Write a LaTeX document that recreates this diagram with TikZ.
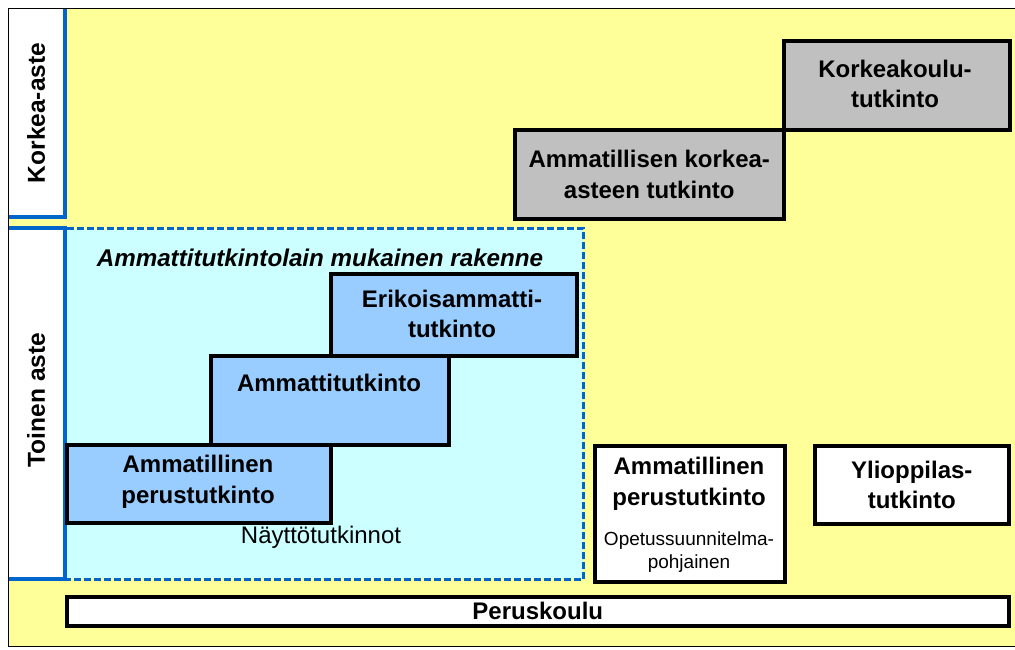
\documentclass[tikz,border=0pt]{standalone}
\usepackage{fontspec}
\setmainfont{Liberation Sans}
\definecolor{bgyellow}{HTML}{FFFF99}
\definecolor{lightcyan}{HTML}{CCFFFF}
\definecolor{boxblue}{HTML}{99CCFF}
\definecolor{boxgray}{HTML}{C0C0C0}
\definecolor{lineblue}{HTML}{0066CC}
\tikzset{
  qbox/.style={draw=black, line width=3.5pt, inner sep=0pt, anchor=north west},
  blbl/.style={font=\bfseries\fontsize{24}{30.5}\selectfont, align=center, inner sep=0pt},
  rlbl/.style={font=\fontsize{24}{28}\selectfont, align=center, inner sep=0pt},
  slbl/.style={font=\fontsize{19}{23}\selectfont, align=center, inner sep=0pt},
  sidelbl/.style={font=\bfseries\fontsize{24.5}{28}\selectfont, rotate=90, inner sep=0pt},
  blueline/.style={draw=lineblue, line width=3.5pt},
  bluedash/.style={draw=lineblue, line width=3pt, dash pattern=on 7pt off 3pt},
}
\begin{document}
\begin{tikzpicture}[x=1pt,y=-1pt]
\useasboundingbox (0,0) rectangle (1015,649);
% background
\fill[bgyellow] (8,8) rectangle (1016,646);
\draw[black, line width=1pt] (1017,8) -- (8,8) -- (8,646) -- (1017,646);
% side label panels
\fill[white] (8.5,8.5) rectangle (65,217);
\draw[blueline] (65,8.5) -- (65,217) -- (8.5,217);
\node[sidelbl] (korkea) at (36,113) {Korkea-aste};
\fill[white] (8.5,228) rectangle (65,579);
\draw[blueline] (8.5,228) -- (65,228) -- (65,579) -- (8.5,579);
\node[sidelbl] (toinen) at (36,400) {Toinen aste};
% cyan region
\fill[lightcyan] (66.5,229.5) rectangle (583,577.5);
\draw[bluedash] (66.5,228) -- (583,228) -- (583,579) -- (66.5,579);
\node[font=\bfseries\itshape\fontsize{24.2}{28}\selectfont, inner sep=0pt] (title) at (320,258) {Ammattitutkintolain mukainen rakenne};
% stair boxes
\node[qbox, fill=boxblue, minimum width=264pt, minimum height=78pt] (apt) at (65,443) {};
\node[qbox, fill=boxblue, minimum width=238pt, minimum height=89pt] (at) at (209,354) {};
\node[qbox, fill=boxblue, minimum width=246pt, minimum height=82pt] (eat) at (329,272) {};
\node[blbl] (aptl) at (198,482) {Ammatillinen\\perustutkinto};
\node[blbl] (atl) at (329,383) {Ammattitutkinto};
\node[blbl] (eatl) at (452,314) {Erikoisammatti-\\tutkinto};
\node[rlbl] (nayt) at (321,537) {Näyttötutkinnot};
% higher education
\node[qbox, fill=boxgray, minimum width=269pt, minimum height=89pt] (akt) at (513,128) {};
\node[qbox, fill=boxgray, minimum width=226pt, minimum height=89pt] (kkt) at (782,39) {};
\node[blbl] (aktl) at (akt.center) {Ammatillisen korkea-\\asteen tutkinto};
\node[blbl] (kktl) at (895,84) {Korkeakoulu-\\tutkinto};
% right secondary boxes
\node[qbox, fill=white, minimum width=190pt, minimum height=136pt] (apt2) at (593,444) {};
\node[blbl] (apt2l) at (689,484) {Ammatillinen\\perustutkinto};
\node[slbl] (opsl) at (689,552) {Opetussuunnitelma-\\pohjainen};
\node[qbox, fill=white, minimum width=194pt, minimum height=78pt] (yo) at (813,444) {};
\node[blbl] (yol) at (yo.center) {Ylioppilas-\\tutkinto};
% basic
\node[qbox, fill=white, minimum width=942pt, minimum height=29pt] (pk) at (65,595) {};
\node[blbl] (pkl) at (pk.center) {Peruskoulu};
\end{tikzpicture}
\end{document}
